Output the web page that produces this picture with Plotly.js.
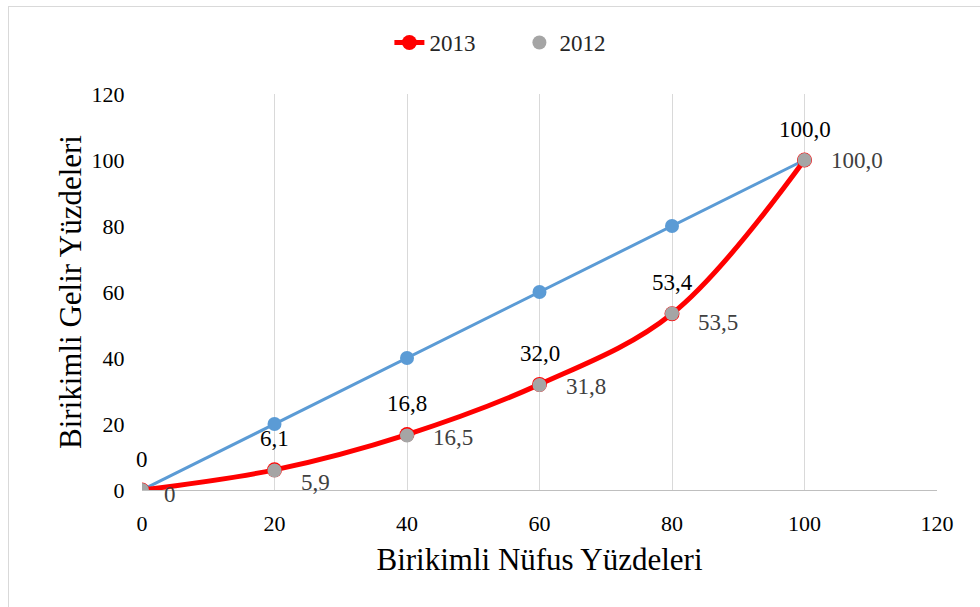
<!DOCTYPE html>
<html>
<head>
<meta charset="utf-8">
<script src="https://cdn.plot.ly/plotly-3.0.1.min.js"></script>
<style>
html,body{margin:0;padding:0;background:#fff;}
#wrap{position:relative;width:980px;height:607px;}
#chart{width:980px;height:607px;}
#frame{position:absolute;left:8px;top:6px;width:975px;height:610px;border:1px solid #d9d9d9;pointer-events:none;}
</style>
</head>
<body>
<div id="wrap"><div id="chart"></div><div id="frame"></div></div>
<script>
// Data
const population = [0, 20, 40, 60, 80, 100];
const equality   = [0, 20, 40, 60, 80, 100];
const income2013 = [0, 6.1, 16.8, 32.0, 53.4, 100.0];
const income2012 = [0, 5.9, 16.5, 31.8, 53.5, 100.0];
const labels2013 = ["0", "6,1", "16,8", "32,0", "53,4", "100,0"];
const labels2012 = ["0", "5,9", "16,5", "31,8", "53,5", "100,0"];
const xTicks = [0, 20, 40, 60, 80, 100, 120];
const yTicks = [0, 20, 40, 60, 80, 100, 120];

// label placement (style only)
const shift2012 = [-4, -12, -2, -1, -9, 0];
const xshift2012 = [20, 24, 24, 24, 24, 24];

const serif = "Liberation Serif";

const traces = [
  {x: population, y: equality, type: 'scatter', mode: 'lines+markers',
   line: {color: '#5b9bd5', width: 3}, marker: {color: '#5b9bd5', size: 14},
   showlegend: false, hoverinfo: 'skip'},
  {x: population, y: income2013, type: 'scatter', mode: 'lines+markers', name: '2013',
   line: {color: '#ff0000', width: 5, shape: 'spline', smoothing: 1},
   marker: {color: '#ff0000', size: 15}},
  {x: population, y: income2012, type: 'scatter', mode: 'markers', name: '2012',
   marker: {color: '#a5a5a5', size: 14}}
];

const annotations = [];
population.forEach((p, i) => {
  annotations.push({x: p, y: income2013[i], xref: 'x', yref: 'y', text: labels2013[i],
    showarrow: false, xanchor: 'center', yanchor: 'middle', yshift: 31,
    font: {family: serif, size: 23, color: '#000000'}});
  annotations.push({x: p, y: income2012[i], xref: 'x', yref: 'y', text: labels2012[i],
    showarrow: false, xanchor: 'left', yanchor: 'middle', xshift: xshift2012[i], yshift: shift2012[i],
    font: {family: serif, size: 23, color: '#404040'}});
});

const layout = {
  width: 980, height: 607,
  margin: {l: 142, r: 43, t: 94, b: 117},
  paper_bgcolor: '#ffffff', plot_bgcolor: '#ffffff',
  font: {family: serif, size: 22, color: '#000000'},
  showlegend: true,
  legend: {orientation: 'h', xref: 'container', yref: 'container', x: 0.53, y: 0.93,
    xanchor: 'center', yanchor: 'middle', font: {family: serif, size: 23, color: '#262626'},
    entrywidth: 85, entrywidthmode: 'pixels', tracegroupgap: 0},
  xaxis: {range: [0, 120], tickvals: xTicks, ticktext: xTicks.map(String),
    showgrid: true, gridcolor: '#d9d9d9', gridwidth: 1, zeroline: false,
    showline: true, linecolor: '#bfbfbf', linewidth: 1,
    ticks: 'outside', ticklen: 14, tickcolor: 'rgba(0,0,0,0)',
    tickfont: {family: serif, size: 22, color: '#000'},
    title: {text: 'Birikimli Nüfus Yüzdeleri', font: {family: serif, size: 31, color: '#000'}, standoff: 12}},
  yaxis: {range: [0, 120], tickvals: yTicks, ticktext: yTicks.map(String),
    showgrid: false, zeroline: false, showline: false,
    ticks: 'outside', ticklen: 12, tickcolor: 'rgba(0,0,0,0)',
    tickfont: {family: serif, size: 22, color: '#000'},
    title: {text: 'Birikimli Gelir Yüzdeleri', font: {family: serif, size: 31, color: '#000'}, standoff: 0}},
  annotations: annotations
};

Plotly.newPlot('chart', traces, layout, {displayModeBar: false, staticPlot: true});
</script>
</body>
</html>
